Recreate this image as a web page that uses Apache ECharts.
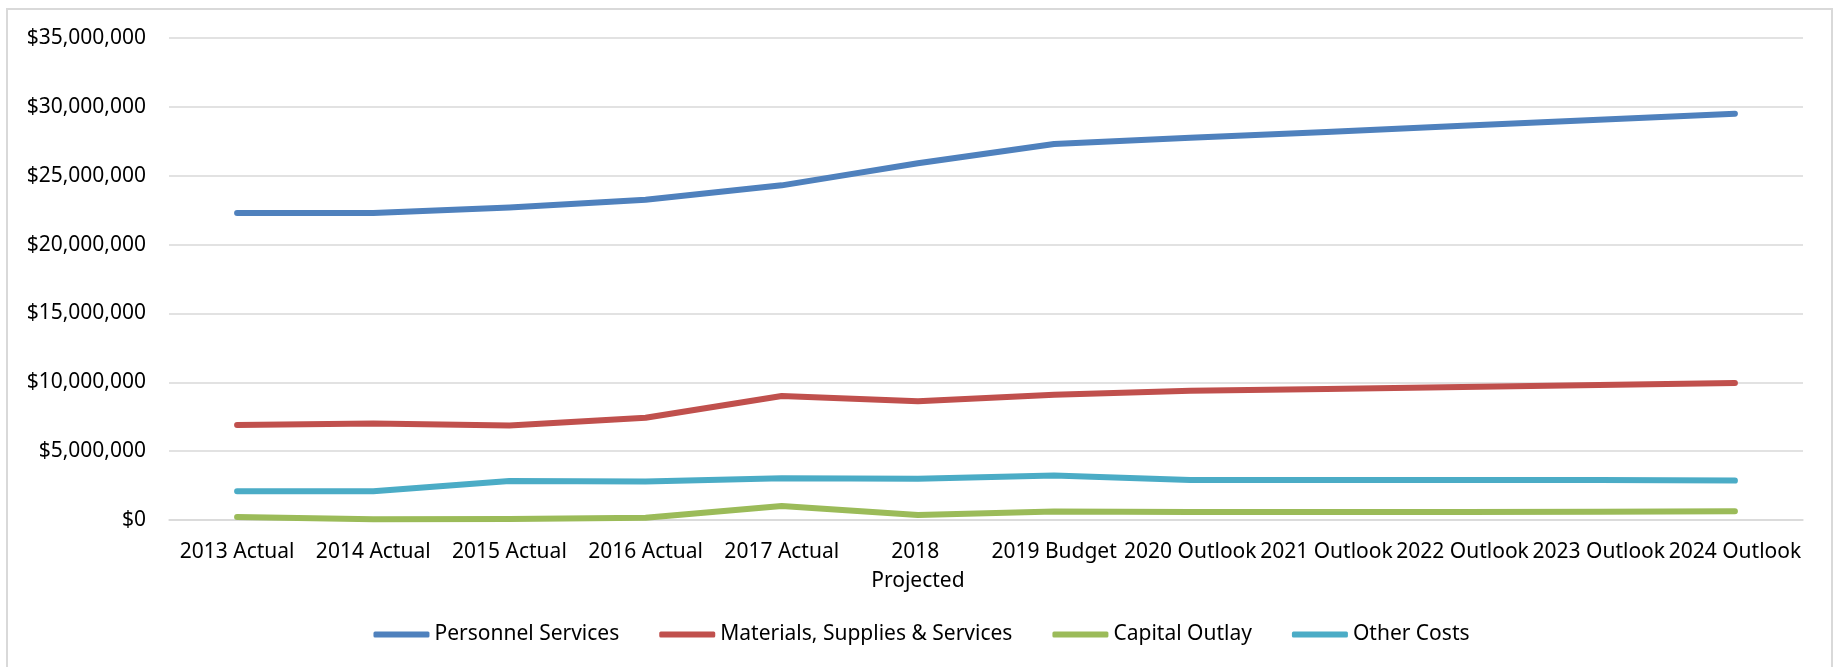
<!DOCTYPE html>
<html>
<head>
<meta charset="utf-8">
<title>Expenditures by Category</title>
<script src="https://cdn.jsdelivr.net/npm/echarts@6/dist/echarts.min.js"></script>
<style>
  html, body { margin: 0; padding: 0; background: #fff; }
  #chart { width: 1843px; height: 667px; }
</style>
</head>
<body>
<div id="chart"></div>
<script>
// Fiscal periods along the horizontal axis
const categories = [
  '2013 Actual', '2014 Actual', '2015 Actual', '2016 Actual', '2017 Actual',
  '2018 Projected', '2019 Budget', '2020 Outlook', '2021 Outlook',
  '2022 Outlook', '2023 Outlook', '2024 Outlook'
];

// Spending by category, in dollars
const personnelServices = [
  22300000, 22300000, 22700000, 23250000, 24300000, 25900000,
  27300000, 27750000, 28180000, 28620000, 29060000, 29500000
];
const materialsSupplies = [
  6900000, 7000000, 6870000, 7420000, 9000000, 8620000,
  9100000, 9380000, 9520000, 9650000, 9800000, 9950000
];
const capitalOutlay = [
  220000, 60000, 70000, 170000, 1020000, 360000,
  620000, 580000, 580000, 580000, 590000, 630000
];
const otherCosts = [
  2080000, 2080000, 2830000, 2800000, 3030000, 3000000,
  3230000, 2900000, 2900000, 2900000, 2900000, 2860000
];

// Value axis ticks
const yMin = 0;
const yMax = 35000000;
const yStep = 5000000;

const seriesNames = [
  'Personnel Services', 'Materials, Supplies & Services', 'Capital Outlay', 'Other Costs'
];
const seriesData = [personnelServices, materialsSupplies, capitalOutlay, otherCosts];
const palette = ['#4F81BD', '#C0504D', '#9BBB59', '#4BACC6'];

const FONT = '"Noto Sans", "Open Sans", sans-serif';
const GRID_GRAY = '#D9D9D9';

const chart = echarts.init(document.getElementById('chart'), null, { renderer: 'canvas' });

chart.setOption({
  animation: false,
  backgroundColor: '#ffffff',
  color: palette,
  textStyle: { fontFamily: FONT },
  graphic: [{
    type: 'rect',
    silent: true,
    shape: { x: 7, y: 9, width: 1825, height: 720 },
    style: { fill: 'none', stroke: GRID_GRAY, lineWidth: 2 }
  }],
  grid: { left: 169, right: 40, top: 38, bottom: 147, containLabel: false },
  legend: {
    bottom: 17,
    left: 'center',
    icon: 'roundRect',
    itemWidth: 56,
    itemHeight: 6,
    itemGap: 40,
    textStyle: { fontSize: 21, color: '#000', fontFamily: FONT },
    data: seriesNames
  },
  xAxis: {
    type: 'category',
    data: categories,
    boundaryGap: true,
    axisLine: { show: true, lineStyle: { color: GRID_GRAY, width: 1.5 } },
    axisTick: { show: false },
    axisLabel: {
      interval: 0,
      margin: 18,
      fontSize: 21,
      color: '#000',
      fontFamily: FONT,
      lineHeight: 29,
      width: 136,
      overflow: 'break'
    },
    splitLine: { show: false }
  },
  yAxis: {
    type: 'value',
    min: yMin,
    max: yMax,
    interval: yStep,
    axisLine: { show: false },
    axisTick: { show: false },
    axisLabel: {
      margin: 23,
      fontSize: 21,
      color: '#000',
      fontFamily: FONT,
      formatter: v => '$' + v.toLocaleString('en-US')
    },
    splitLine: { lineStyle: { color: GRID_GRAY, width: 1.5 } }
  },
  series: seriesNames.map((name, i) => ({
    name,
    type: 'line',
    data: seriesData[i],
    symbol: 'none',
    smooth: false,
    lineStyle: { width: 6, cap: 'round', join: 'round', color: palette[i] },
    itemStyle: { color: palette[i] }
  }))
});
</script>
</body>
</html>
